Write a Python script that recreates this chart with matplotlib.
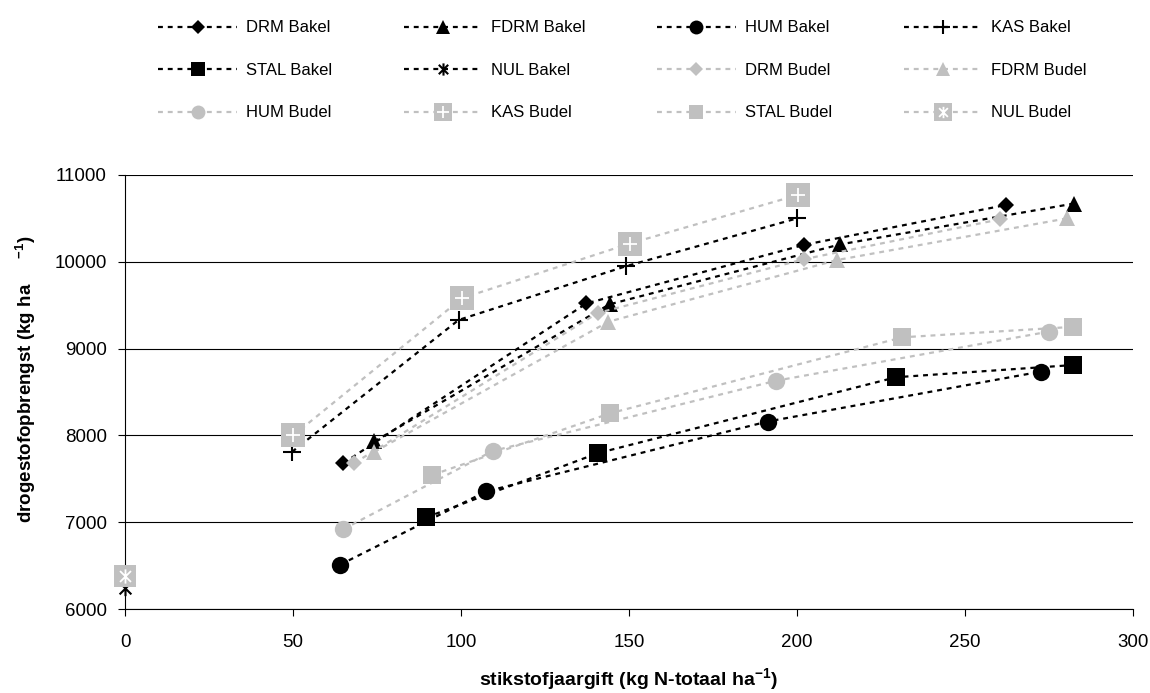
import numpy as np
import matplotlib
matplotlib.use("Agg")
import matplotlib.pyplot as plt
from matplotlib.lines import Line2D
from matplotlib.path import Path

plt.rcParams["font.family"] = ["Liberation Sans", "DejaVu Sans"]
plt.rcParams["mathtext.fontset"] = "custom"
plt.rcParams["mathtext.rm"] = "Liberation Sans"
plt.rcParams["mathtext.bf"] = "Liberation Sans:bold"

# stikstofgift (kg N ha-1) en opbrengst (kg ds ha-1) per behandeling
drm_bakel_x = [65.0, 137.3, 202.1, 262.3]
drm_bakel_y = [7680, 9520, 10195, 10655]
fdrm_bakel_x = [74.2, 144.2, 212.8, 282.3]
fdrm_bakel_y = [7930, 9510, 10200, 10670]
hum_bakel_x = [64.0, 107.5, 191.3, 272.6]
hum_bakel_y = [6510, 7355, 8160, 8735]
kas_bakel_x = [49.7, 99.3, 149.2, 200.0]
kas_bakel_y = [7810, 9330, 9950, 10500]
stal_bakel_x = [89.6, 140.7, 229.5, 282.0]
stal_bakel_y = [7055, 7795, 8670, 8810]
nul_bakel_x = [0]
nul_bakel_y = [6240]

drm_budel_x = [68.2, 140.7, 202.1, 260.5]
drm_budel_y = [7680, 9410, 10030, 10490]
fdrm_budel_x = [74.2, 143.9, 211.9, 280.3]
fdrm_budel_y = [7810, 9310, 10020, 10500]
hum_budel_x = [65.0, 109.4, 193.8, 274.9]
hum_budel_y = [6920, 7820, 8630, 9195]
kas_budel_x = [50.1, 100.3, 150.2, 200.3]
kas_budel_y = [8000, 9580, 10210, 10770]
stal_budel_x = [91.5, 144.4, 231.4, 282.0]
stal_budel_y = [7545, 8255, 9130, 9250]
nul_budel_x = [0]
nul_budel_y = [6380]

x_ticks = [0, 50, 100, 150, 200, 250, 300]
y_ticks = [6000, 7000, 8000, 9000, 10000, 11000]

BLACK = "#000000"
GREY = "#C0C0C0"

# asterisk marker (x met verticale streep), zoals in Excel
STAR = Path(
    [(-1, -1), (1, 1), (-1, 1), (1, -1), (0, -1.3), (0, 1.3)],
    [Path.MOVETO, Path.LINETO, Path.MOVETO, Path.LINETO, Path.MOVETO, Path.LINETO],
)

# (label, x, y, kleur, marker, grootte, overlay)
series = [
    ("DRM Bakel", drm_bakel_x, drm_bakel_y, BLACK, "D", 8.5, None),
    ("FDRM Bakel", fdrm_bakel_x, fdrm_bakel_y, BLACK, "^", 12, None),
    ("HUM Bakel", hum_bakel_x, hum_bakel_y, BLACK, "o", 12.5, None),
    ("KAS Bakel", kas_bakel_x, kas_bakel_y, BLACK, "+", 13, None),
    ("STAL Bakel", stal_bakel_x, stal_bakel_y, BLACK, "s", 12.5, None),
    ("NUL Bakel", nul_bakel_x, nul_bakel_y, BLACK, STAR, 11, None),
    ("DRM Budel", drm_budel_x, drm_budel_y, GREY, "D", 8.5, None),
    ("FDRM Budel", fdrm_budel_x, fdrm_budel_y, GREY, "^", 12, None),
    ("HUM Budel", hum_budel_x, hum_budel_y, GREY, "o", 12.5, None),
    ("KAS Budel", kas_budel_x, kas_budel_y, GREY, "s", 17, "+"),
    ("STAL Budel", stal_budel_x, stal_budel_y, GREY, "s", 12.5, None),
    ("NUL Budel", nul_budel_x, nul_budel_y, GREY, "s", 16.5, STAR),
]

LS = (0, (2.2, 2.2))
LW = 1.6

fig = plt.figure(figsize=(11.5, 6.93), dpi=100)
ax = fig.add_axes([0.1087, 0.1212, 0.8765, 0.6263])

handles = []
labels = []
for i, (label, xs, ys, col, mk, ms, over) in enumerate(series):
    z = 3 + i
    mew = 1.5 if (mk == "+" or mk is STAR) else 0
    ax.plot(xs, ys, color=col, lw=LW, ls=LS, marker=mk, ms=ms, mec=col, mew=mew,
            zorder=z, clip_on=False)
    h = Line2D([], [], color=col, lw=LW, ls=LS, marker=mk, ms=ms, mec=col, mew=mew)
    if over is not None:
        ax.plot(xs, ys, ls="none", marker=over, ms=ms * 0.62, color="white",
                mew=1.3, zorder=z + 0.5, clip_on=False)
        h2 = Line2D([], [], ls="none", marker=over, ms=ms * 0.62, color="white", mew=1.3)
        h = (h, h2)
    handles.append(h)
    labels.append(label)

ax.set_xlim(0, 300)
ax.set_ylim(6000, 11000)
ax.set_xticks(x_ticks)
ax.set_yticks(y_ticks)
ax.tick_params(axis="both", direction="out", length=5, width=0.8, labelsize=13.5, colors="black")
ax.tick_params(axis="y", pad=8)
ax.tick_params(axis="x", pad=13)
ax.yaxis.grid(True, color="black", lw=0.8)
ax.set_axisbelow(True)
for side in ("top", "right"):
    ax.spines[side].set_visible(False)
for side in ("left", "bottom"):
    ax.spines[side].set_linewidth(0.8)

ax.set_xlabel("stikstofjaargift (kg N-totaal ha$^{\\mathbf{-1}}$)", fontsize=14,
              fontweight="bold", labelpad=11)
ax.set_ylabel("drogestofopbrengst (kg ha     $^{\\mathbf{-1}}$)", fontsize=13.5,
              fontweight="bold")
ax.yaxis.set_label_coords(-0.086, 0.53)

# legenda: rij voor rij, 4 kolommen (matplotlib vult per kolom)
order = [0, 4, 8, 1, 5, 9, 2, 6, 10, 3, 7, 11]
fig.legend([handles[k] for k in order], [labels[k] for k in order],
           loc="upper left", bbox_to_anchor=(150 / 1150, 1 - 12 / 693),
           ncol=4, frameon=False, fontsize=12, handlelength=4.7,
           handletextpad=0.55, columnspacing=4.3, labelspacing=1.65,
           borderpad=0, markerscale=0.8)

fig.savefig("out.png", dpi=100)
